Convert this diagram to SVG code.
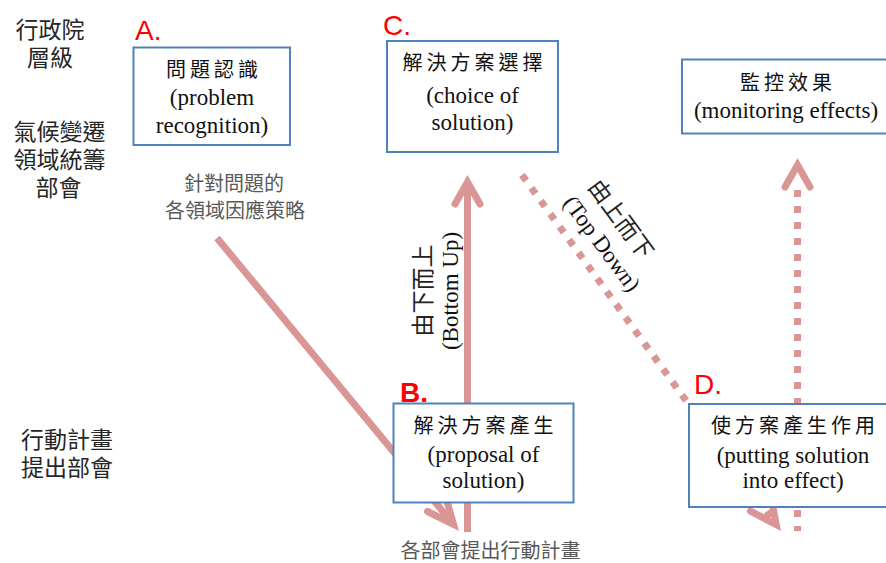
<svg xmlns="http://www.w3.org/2000/svg" width="886" height="563" viewBox="0 0 886 563">
<defs>
<style>
.box{fill:#fff;stroke:#4F81BD;stroke-width:2}
.zh{font-family:"Noto Sans CJK TC","Noto Sans CJK SC",sans-serif}
.side{font-size:23px;fill:#262626;text-anchor:middle}
.ttl{font-size:20px;letter-spacing:4px;fill:#111;text-anchor:middle}
.en{font-family:"Liberation Serif","Times New Roman",serif;font-size:23px;fill:#111;text-anchor:middle}
.note{font-size:20px;fill:#595959;text-anchor:middle}
.rot{font-size:23px;fill:#222;text-anchor:middle}
.tag{font-family:"Liberation Sans",Arial,sans-serif;font-size:28px;fill:#FF0000}
.ln{fill:none;stroke:#D99694;stroke-width:7}
.dot{stroke-dasharray:7 9}
.head{fill:none;stroke:#D99694;stroke-width:7;stroke-linecap:round;stroke-linejoin:miter}
</style>
</defs>
<rect width="886" height="563" fill="#fff"/>

<g id="side-labels">
<text class="zh side" x="50" y="38">行政院</text>
<text class="zh side" x="50" y="66">層級</text>
<text class="zh side" x="59.5" y="140">氣候變遷</text>
<text class="zh side" x="59.5" y="168">領域統籌</text>
<text class="zh side" x="58.5" y="196">部會</text>
<text class="zh side" x="67" y="448">行動計畫</text>
<text class="zh side" x="67" y="476">提出部會</text>
</g>

<g id="connectors">
<line class="ln" x1="217" y1="238" x2="453.5" y2="524.4"/>
<polyline class="head" points="427.5,511.5 453.5,524.4 445.7,496.5"/>
<line class="ln" x1="467.5" y1="532" x2="467.5" y2="182"/>
<polyline class="head" points="455,204 467.5,182 480,204"/>
<path class="ln dot" d="M522,175 L776.2,524.6"/>
<polyline class="head" points="750.5,511.2 776.2,524.6 770.9,496.1"/>
<path class="ln dot" d="M797.5,190 V531"/>
<polyline class="head" points="785,187 797.5,165 810,187"/>
<text class="zh rot" font-size="24" transform="translate(431,290.5) rotate(-90)">由下而上</text>
<text class="en" transform="translate(458,291) rotate(-90)">(Bottom Up)</text>
<text class="zh rot" font-size="24" transform="translate(614.3,223.9) rotate(53.5)">由上而下</text>
<text class="en" transform="translate(595.7,248.2) rotate(53.5)">(Top Down)</text>
</g>

<g id="node-A">
<rect class="box" x="133.5" y="47.5" width="156.5" height="97.5"/>
<text class="zh ttl" x="214" y="77">問題認識</text>
<text class="en" x="212" y="105">(problem</text>
<text class="en" x="212" y="133">recognition)</text>
<text class="tag" font-size="30" x="135" y="40">A.</text>
</g>
<g id="note-A">
<text class="zh note" x="234" y="191">針對問題的</text>
<text class="zh note" x="235" y="218">各領域因應策略</text>
</g>

<g id="node-C">
<rect class="box" x="387" y="41" width="171" height="111"/>
<text class="zh ttl" x="474.5" y="70">解決方案選擇</text>
<text class="en" x="472.5" y="103">(choice of</text>
<text class="en" x="472.5" y="130">solution)</text>
<text class="tag" x="383" y="35">C.</text>
</g>

<g id="node-monitor">
<rect class="box" x="682" y="59.5" width="210" height="74"/>
<text class="zh ttl" x="788" y="90">監控效果</text>
<text class="en" x="786" y="118">(monitoring effects)</text>
</g>

<g id="node-B">
<rect class="box" x="393.5" y="403.5" width="180" height="99"/>
<text class="zh ttl" x="485.5" y="433">解決方案產生</text>
<text class="en" x="483.5" y="462">(proposal of</text>
<text class="en" x="483.5" y="488">solution)</text>
<text class="tag" font-weight="bold" x="400" y="402">B.</text>
</g>
<g id="note-B">
<text class="zh note" font-size="20.5" x="490.5" y="558">各部會提出行動計畫</text>
</g>

<g id="node-D">
<rect class="box" x="689" y="404" width="210" height="103"/>
<text class="zh ttl" x="795" y="433">使方案產生作用</text>
<text class="en" x="793" y="463">(putting solution</text>
<text class="en" x="793" y="488">into effect)</text>
<text class="tag" x="694" y="394">D.</text>
</g>
</svg>
